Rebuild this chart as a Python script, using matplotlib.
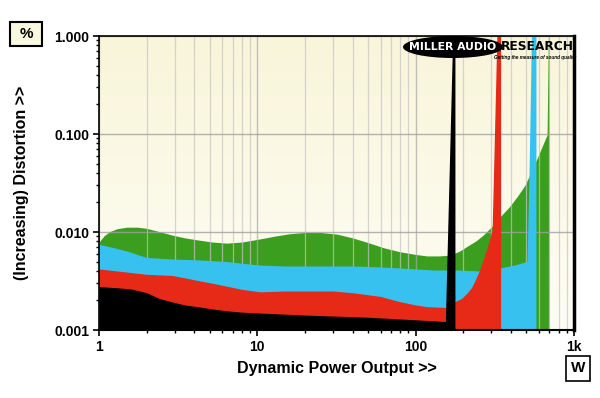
import matplotlib
matplotlib.use("Agg")

import matplotlib.pyplot as plt
from matplotlib.patches import Ellipse, Rectangle
from matplotlib.ticker import FixedLocator, FixedFormatter, NullFormatter, LogLocator
import numpy as np

plt.rcParams['font.family'] = ['Liberation Sans', 'DejaVu Sans']

# distortion (%) vs dynamic power output (W), one trace per load
green_p = [1, 1.08, 1.17, 1.3, 1.5, 1.75, 2, 2.4, 2.9, 3.5, 4.2, 5.2, 6.4, 8, 10.4, 13, 16, 20, 25, 32, 40,
           50, 63, 79, 100, 118, 140, 165, 190, 210, 240, 267, 300, 340, 390, 437, 490, 530, 585, 630, 676,
           690, 697]
green_d = [0.0079, 0.0092, 0.0101, 0.0108, 0.0112, 0.0112, 0.0109, 0.0101, 0.0093, 0.0087, 0.0083, 0.0079,
           0.0077, 0.0079, 0.0085, 0.0091, 0.0096, 0.0099, 0.0099, 0.0095, 0.0087, 0.0078, 0.0069, 0.0063,
           0.0059, 0.0057, 0.0057, 0.0058, 0.0064, 0.0071, 0.0081, 0.0093, 0.0112, 0.0142, 0.018, 0.0229,
           0.030, 0.0395, 0.0565, 0.075, 0.098, 1.3, 1.3]

blue_p = [1, 1.25, 1.5, 1.75, 2, 2.4, 2.9, 4.2, 6.4, 8, 10.4, 15, 20, 40, 60, 79, 128, 180, 255, 340, 420,
          505, 520, 540, 575]
blue_d = [0.0075, 0.0069, 0.0064, 0.0059, 0.0055, 0.0054, 0.0053, 0.0052, 0.005, 0.0048, 0.0046, 0.0045,
          0.0045, 0.0045, 0.0044, 0.0043, 0.0041, 0.0041, 0.004, 0.0043, 0.0046, 0.005, 0.04, 1.3, 1.3]

red_p = [1, 1.5, 2, 2.9, 3.5, 4.2, 5.2, 6.4, 8, 10.4, 15, 20, 30, 40, 60, 79, 100, 118, 154, 177, 195, 210,
         225, 237, 252, 267, 285, 304, 327, 344]
red_d = [0.0042, 0.0039, 0.0037, 0.0036, 0.0034, 0.0032, 0.003, 0.0028, 0.0026, 0.00245, 0.0025, 0.0025,
         0.0025, 0.0024, 0.0022, 0.00195, 0.0018, 0.00173, 0.0017, 0.00195, 0.0021, 0.00236, 0.0027, 0.0032,
         0.004, 0.0052, 0.0072, 0.0105, 1.3, 1.3]

black_p = [1, 1.3, 1.6, 2, 2.4, 2.9, 3.5, 4.2, 5.2, 6.4, 8, 10.4, 20, 50, 100, 154, 172, 177]
black_d = [0.00277, 0.0027, 0.00262, 0.0024, 0.0021, 0.00193, 0.0018, 0.00173, 0.00164, 0.00157, 0.00152,
           0.00149, 0.00142, 0.00135, 0.00127, 0.00122, 1.3, 1.3]

x_ticks = [1, 10, 100, 1000]
x_labels = ["1", "10", "100", "1k"]
y_ticks = [0.001, 0.01, 0.1, 1.0]
y_labels = ["0.001", "0.010", "0.100", "1.000"]

series = [
    (green_p, green_d, '#3c9e1e'),
    (blue_p, blue_d, '#36c1ee'),
    (red_p, red_d, '#e62a17'),
    (black_p, black_d, '#000000'),
]

fig = plt.figure(figsize=(6, 3.98), dpi=100)
ax = fig.add_axes([99 / 600, 68 / 398, 475 / 600, 294 / 398])
ax.set_xscale('log')
ax.set_yscale('log')
ax.set_xlim(1, 1000)
ax.set_ylim(0.001, 1.0)

# cream background gradient
grad = np.linspace(0, 1, 256).reshape(-1, 1)
cmap = matplotlib.colors.LinearSegmentedColormap.from_list('bg', ['#fefdf4', '#f9f5da'])
ax.imshow(grad, extent=[0, 1, 0, 1], transform=ax.transAxes, origin='lower',
          cmap=cmap, aspect='auto', zorder=0)

for i, (p, d, c) in enumerate(series):
    ax.fill_between(p, d, 0.001, color=c, linewidth=0, zorder=2 + i)

# grid on top of the fills
ax.xaxis.set_major_locator(FixedLocator(x_ticks))
ax.xaxis.set_major_formatter(FixedFormatter(x_labels))
ax.xaxis.set_minor_locator(LogLocator(base=10, subs=range(2, 10)))
ax.xaxis.set_minor_formatter(NullFormatter())
ax.yaxis.set_major_locator(FixedLocator(y_ticks))
ax.yaxis.set_major_formatter(FixedFormatter(y_labels))
ax.yaxis.set_minor_locator(LogLocator(base=10, subs=range(2, 10)))
ax.yaxis.set_minor_formatter(NullFormatter())

ax.grid(which='minor', axis='x', color='#c4c4c4', linewidth=0.9, alpha=0.7, zorder=8)
ax.grid(which='major', axis='x', color='#a6a6a6', linewidth=1.0, alpha=0.7, zorder=8)
ax.grid(which='major', axis='y', color='#a0a0a0', linewidth=1.0, alpha=0.8, zorder=8)
ax.set_axisbelow(False)

ax.tick_params(which='major', direction='out', length=4, width=1.2, pad=3,
               labelsize=10, color='black')
ax.tick_params(which='minor', direction='out', length=2.5, width=1.0, color='black')
for lab in ax.get_xticklabels() + ax.get_yticklabels():
    lab.set_fontweight('bold')

for side, lw in [('left', 1.2), ('top', 1.2), ('bottom', 1.5), ('right', 2.5)]:
    ax.spines[side].set_linewidth(lw)
    ax.spines[side].set_color('black')
    ax.spines[side].set_zorder(10)

ax.set_xlabel("Dynamic Power Output >>", fontsize=11.5, fontweight='bold', labelpad=5)
ax.set_ylabel("(Increasing) Distortion >>", fontsize=11.5, fontweight='bold', labelpad=18)

# unit boxes
fig.patches.append(Rectangle((10 / 600, 1 - 46 / 398), 32 / 600, 24 / 398, transform=fig.transFigure,
                             facecolor='#fbf8e0', edgecolor='black', linewidth=1.5))
fig.text(26 / 600, 1 - 34 / 398, "%", fontsize=11, fontweight='bold', ha='center', va='center')
fig.patches.append(Rectangle((566 / 600, 1 - 381 / 398), 24 / 600, 25 / 398, transform=fig.transFigure,
                             facecolor='white', edgecolor='black', linewidth=1.2))
fig.text(578 / 600, 1 - 368.5 / 398, "W", fontsize=11, fontweight='bold', ha='center', va='center')

# logo
fig.patches.append(Ellipse((453 / 600, 1 - 47 / 398), 100 / 600, 22 / 398, transform=fig.transFigure,
                           facecolor='black', edgecolor='none', zorder=20))
fig.text(453 / 600, 1 - 47 / 398, "MILLER AUDIO", color='white', fontsize=7.8, fontweight='bold',
         family='DejaVu Sans', ha='center', va='center', zorder=21)
fig.text(537 / 600, 1 - 46 / 398, "RESEARCH", color='black', fontsize=8.8, fontweight='bold',
         family='DejaVu Sans', ha='center', va='center', zorder=21)
fig.text(535 / 600, 1 - 57 / 398, "Getting the measure of sound quality", color='black', fontsize=3.3,
         fontweight='bold', style='italic', ha='center', va='center', zorder=21)

fig.savefig("out.png", dpi=100)
